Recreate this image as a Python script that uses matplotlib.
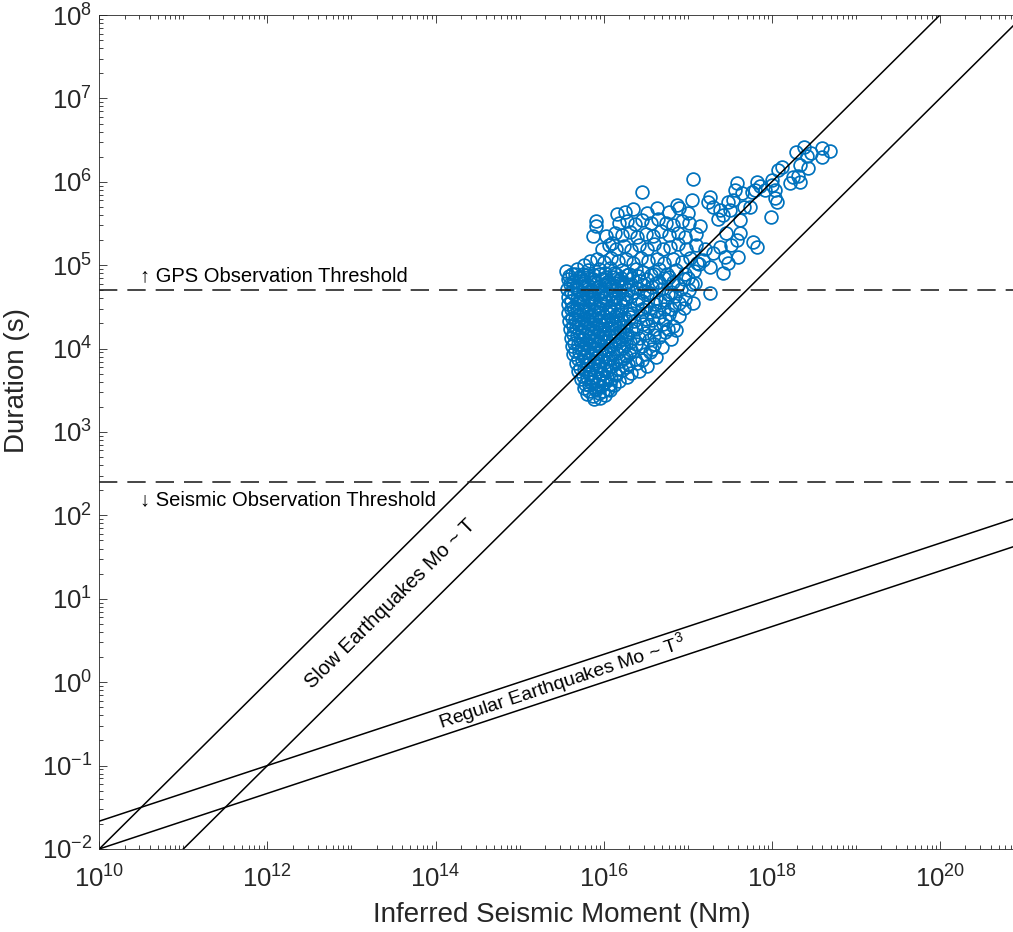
import numpy as np
import matplotlib
matplotlib.use("Agg")
import matplotlib.pyplot as plt
from matplotlib.ticker import LogLocator, NullFormatter, LogFormatterSciNotation

plt.rcParams['font.family'] = ['Liberation Sans', 'DejaVu Sans']
plt.rcParams['mathtext.fontset'] = 'custom'
plt.rcParams['mathtext.rm'] = 'Liberation Sans'
plt.rcParams['mathtext.it'] = 'Liberation Sans:italic'
plt.rcParams['mathtext.default'] = 'regular'

# events as (log10 moment [Nm], log10 duration [s])
dense_events = [
    (15.55, 4.93), (15.62, 4.89), (15.68, 4.96), (15.75, 4.90), (15.81, 4.94), (15.88, 4.88), (15.94, 4.95),
    (16.01, 4.91), (16.08, 4.97), (16.15, 4.89), (16.22, 4.94), (16.30, 4.90), (16.38, 4.96), (16.47, 4.92),
    (16.56, 4.88), (16.66, 4.95), (16.75, 4.90), (16.86, 4.94), (16.97, 4.89), (17.08, 4.93),
    (15.57, 4.83), (15.64, 4.80), (15.71, 4.86), (15.77, 4.81), (15.84, 4.85), (15.91, 4.79), (15.98, 4.84),
    (16.04, 4.80), (16.11, 4.86), (16.18, 4.82), (16.26, 4.78), (16.34, 4.85), (16.43, 4.81), (16.52, 4.84),
    (16.62, 4.79), (16.72, 4.85), (16.83, 4.80), (16.95, 4.83), (17.05, 4.78),
    (15.56, 4.72), (15.63, 4.76), (15.70, 4.71), (15.78, 4.75), (15.85, 4.70), (15.92, 4.74), (15.99, 4.69),
    (16.06, 4.75), (16.13, 4.71), (16.21, 4.74), (16.29, 4.70), (16.38, 4.73), (16.48, 4.69), (16.58, 4.74),
    (16.69, 4.71), (16.80, 4.68), (16.92, 4.72), (17.02, 4.70),
    (15.58, 4.62), (15.65, 4.66), (15.72, 4.61), (15.79, 4.65), (15.86, 4.60), (15.93, 4.64), (16.00, 4.61),
    (16.07, 4.66), (16.15, 4.62), (16.23, 4.58), (16.32, 4.63), (16.41, 4.60), (16.51, 4.65), (16.62, 4.61),
    (16.73, 4.58), (16.85, 4.63), (16.97, 4.60),
    (15.57, 4.53), (15.64, 4.50), (15.71, 4.55), (15.78, 4.51), (15.85, 4.56), (15.92, 4.50), (15.99, 4.54),
    (16.06, 4.49), (16.14, 4.55), (16.22, 4.51), (16.31, 4.47), (16.40, 4.53), (16.50, 4.50), (16.61, 4.54),
    (16.72, 4.48), (16.84, 4.52), (16.95, 4.49),
    (15.58, 4.43), (15.65, 4.46), (15.72, 4.41), (15.79, 4.45), (15.86, 4.40), (15.93, 4.44), (16.00, 4.39),
    (16.08, 4.45), (16.16, 4.41), (16.25, 4.37), (16.34, 4.43), (16.44, 4.40), (16.55, 4.44), (16.66, 4.38),
    (16.78, 4.42), (16.90, 4.39),
    (15.59, 4.33), (15.66, 4.36), (15.73, 4.31), (15.80, 4.35), (15.87, 4.30), (15.94, 4.34), (16.01, 4.29),
    (16.09, 4.35), (16.17, 4.31), (16.26, 4.27), (16.36, 4.33), (16.47, 4.29), (16.58, 4.34), (16.70, 4.30),
    (16.83, 4.27),
    (15.60, 4.23), (15.67, 4.26), (15.74, 4.21), (15.81, 4.25), (15.88, 4.20), (15.95, 4.24), (16.02, 4.19),
    (16.10, 4.25), (16.19, 4.21), (16.28, 4.17), (16.38, 4.23), (16.49, 4.19), (16.61, 4.24), (16.73, 4.20),
    (16.86, 4.22),
    (15.61, 4.13), (15.68, 4.16), (15.75, 4.11), (15.82, 4.15), (15.89, 4.10), (15.96, 4.14), (16.04, 4.09),
    (16.12, 4.15), (16.21, 4.11), (16.31, 4.08), (16.42, 4.13), (16.54, 4.10), (16.66, 4.14), (16.80, 4.11),
    (15.62, 4.03), (15.69, 4.06), (15.76, 4.01), (15.83, 4.05), (15.90, 4.00), (15.97, 4.04), (16.05, 3.99),
    (16.14, 4.05), (16.23, 4.01), (16.33, 3.98), (16.45, 4.03), (16.57, 3.99), (16.69, 4.02),
    (15.64, 3.93), (15.71, 3.96), (15.78, 3.91), (15.85, 3.95), (15.92, 3.90), (15.99, 3.94), (16.07, 3.89),
    (16.16, 3.95), (16.26, 3.91), (16.37, 3.88), (16.49, 3.93), (16.62, 3.90),
    (15.67, 3.83), (15.74, 3.86), (15.81, 3.81), (15.88, 3.85), (15.95, 3.80), (16.02, 3.84), (16.10, 3.79),
    (16.19, 3.85), (16.29, 3.81), (16.40, 3.83), (16.52, 3.79),
    (15.70, 3.73), (15.77, 3.76), (15.84, 3.71), (15.91, 3.75), (15.98, 3.70), (16.05, 3.74), (16.13, 3.69),
    (16.22, 3.74), (16.32, 3.71), (16.42, 3.73),
    (15.73, 3.63), (15.80, 3.66), (15.87, 3.61), (15.94, 3.65), (16.01, 3.60), (16.09, 3.64), (16.18, 3.61),
    (15.76, 3.53), (15.83, 3.56), (15.90, 3.51), (15.97, 3.55), (16.05, 3.52), (16.12, 3.56),
    (15.80, 3.46), (15.87, 3.43), (15.94, 3.47), (16.01, 3.44),
    (15.89, 3.39), (15.96, 3.41),
]

# second pass through the dense core, between the rows above
core_events = [
    (15.59, 4.87), (15.66, 4.90), (15.73, 4.85), (15.80, 4.88), (15.87, 4.84), (15.95, 4.89), (16.03, 4.86),
    (16.12, 4.91), (16.20, 4.85), (16.28, 4.88), (16.41, 4.87), (16.60, 4.90), (16.78, 4.86), (17.00, 4.85),
    (15.60, 4.77), (15.67, 4.74), (15.74, 4.79), (15.81, 4.76), (15.88, 4.80), (15.96, 4.75), (16.02, 4.78),
    (16.09, 4.74), (16.16, 4.79), (16.24, 4.75), (16.33, 4.78), (16.47, 4.76), (16.66, 4.80), (16.88, 4.76),
    (15.61, 4.68), (15.68, 4.71), (15.75, 4.66), (15.82, 4.69), (15.89, 4.65), (15.97, 4.69), (16.03, 4.66),
    (16.10, 4.70), (16.18, 4.67), (16.27, 4.65), (16.36, 4.68), (16.55, 4.67), (16.77, 4.66),
    (15.61, 4.57), (15.68, 4.60), (15.75, 4.56), (15.82, 4.59), (15.89, 4.55), (15.96, 4.58), (16.03, 4.56),
    (16.11, 4.60), (16.19, 4.56), (16.27, 4.59), (16.45, 4.57), (16.67, 4.56), (16.90, 4.55),
    (15.61, 4.47), (15.68, 4.49), (15.75, 4.45), (15.82, 4.48), (15.89, 4.46), (15.96, 4.49), (16.04, 4.44),
    (16.12, 4.48), (16.20, 4.46), (16.29, 4.42), (16.45, 4.47), (16.62, 4.45), (16.80, 4.47),
    (15.62, 4.37), (15.69, 4.40), (15.76, 4.36), (15.83, 4.39), (15.90, 4.35), (15.97, 4.38), (16.05, 4.34),
    (16.13, 4.39), (16.21, 4.36), (16.31, 4.38), (16.50, 4.36), (16.73, 4.35),
    (15.63, 4.27), (15.70, 4.30), (15.77, 4.26), (15.84, 4.29), (15.91, 4.25), (15.98, 4.28), (16.06, 4.24),
    (16.14, 4.29), (16.23, 4.26), (16.33, 4.22), (16.53, 4.27), (16.77, 4.24),
    (15.64, 4.17), (15.71, 4.20), (15.78, 4.16), (15.85, 4.19), (15.92, 4.15), (15.99, 4.18), (16.07, 4.14),
    (16.16, 4.19), (16.25, 4.16), (16.35, 4.13), (16.60, 4.16),
    (15.65, 4.07), (15.72, 4.10), (15.79, 4.06), (15.86, 4.09), (15.93, 4.05), (16.00, 4.08), (16.09, 4.04),
    (16.18, 4.09), (16.27, 4.05), (16.38, 4.06), (16.60, 4.05),
    (15.66, 3.97), (15.73, 4.00), (15.80, 3.96), (15.87, 3.99), (15.94, 3.95), (16.02, 3.98), (16.11, 3.95),
    (16.20, 3.99), (16.30, 3.95), (16.55, 3.96),
    (15.69, 3.87), (15.76, 3.90), (15.83, 3.86), (15.90, 3.89), (15.97, 3.85), (16.05, 3.88), (16.14, 3.85),
    (16.24, 3.89), (16.45, 3.86),
    (15.72, 3.77), (15.79, 3.80), (15.86, 3.76), (15.93, 3.79), (16.00, 3.75), (16.08, 3.78), (16.17, 3.76),
    (16.27, 3.78),
    (15.75, 3.67), (15.82, 3.70), (15.89, 3.66), (15.96, 3.69), (16.04, 3.66), (16.15, 3.68), (16.28, 3.66),
    (15.78, 3.58), (15.85, 3.60), (15.92, 3.57), (15.99, 3.59), (16.08, 3.58),
    (15.83, 3.49), (15.91, 3.50), (15.99, 3.49), (16.07, 3.50),
]

upper_events = [
    (15.84, 5.05), (15.92, 5.08), (16.00, 5.04), (16.09, 5.09), (16.17, 5.05), (16.26, 5.08), (16.35, 5.03),
    (16.44, 5.09), (16.53, 5.05), (16.63, 5.08), (16.72, 5.03), (16.82, 5.07), (16.93, 5.04), (17.03, 5.09),
    (17.13, 5.02),
    (15.98, 5.20), (16.06, 5.24), (16.15, 5.19), (16.24, 5.23), (16.33, 5.18), (16.42, 5.24), (16.51, 5.20),
    (16.60, 5.25), (16.70, 5.19), (16.79, 5.22), (16.88, 5.26), (16.98, 5.20), (17.10, 5.24), (17.20, 5.19),
    (16.03, 5.35), (16.13, 5.39), (16.22, 5.36), (16.31, 5.40), (16.40, 5.34), (16.50, 5.38), (16.59, 5.35),
    (16.68, 5.41), (16.78, 5.36), (16.88, 5.39), (16.97, 5.34), (17.10, 5.37),
    (16.18, 5.50), (16.28, 5.53), (16.37, 5.49), (16.46, 5.54), (16.56, 5.50), (16.65, 5.55), (16.74, 5.51),
    (16.83, 5.48), (16.93, 5.53), (17.02, 5.50), (17.15, 5.47),
    (16.25, 5.64), (16.35, 5.67), (16.52, 5.63), (16.64, 5.68), (16.78, 5.64), (16.90, 5.69), (17.00, 5.62),
    (16.45, 5.88), (15.91, 5.53), (15.91, 5.47), (15.87, 5.35), (16.10, 5.27), (16.16, 5.61), (16.87, 5.72),
    (17.06, 6.03), (15.77, 5.00), (17.26, 4.67), (17.42, 4.91), (17.11, 5.03), (17.09, 4.79), (17.06, 4.55),
]

tail_events = [
    (18.38, 6.42), (18.69, 6.37), (18.60, 6.41), (18.29, 6.36), (18.46, 6.35), (18.60, 6.30), (18.42, 6.31),
    (18.34, 6.20), (18.43, 6.17), (18.12, 6.18), (18.07, 6.14), (18.25, 6.06), (18.31, 6.07), (18.22, 5.99),
    (18.34, 6.00), (18.00, 6.02), (18.00, 5.96), (18.04, 5.90), (18.04, 5.81), (18.06, 5.76), (17.82, 6.00),
    (17.92, 5.90), (17.80, 5.90), (17.86, 5.95), (17.76, 5.88), (17.58, 5.98), (17.56, 5.90), (17.54, 5.78),
    (17.64, 5.86), (17.67, 5.70), (17.74, 5.70), (17.99, 5.58), (17.26, 5.82), (17.24, 5.76), (17.30, 5.70),
    (17.38, 5.66), (17.48, 5.76), (17.50, 5.66), (17.62, 5.54), (17.42, 5.60), (17.36, 5.55), (17.05, 5.78),
    (17.62, 5.39), (17.58, 5.30), (17.46, 5.39), (17.52, 5.24), (17.60, 5.10), (17.78, 5.28), (17.82, 5.22),
    (17.44, 5.10), (17.48, 5.03), (17.30, 5.15), (17.38, 5.22), (17.18, 5.06), (17.26, 4.98),
]

gps_threshold = 5e4       # s
seismic_threshold = 250   # s

moment_range = np.array([1e10, 1e21])

fig = plt.figure(figsize=(10.13, 9.32), dpi=100)
ax = fig.add_axes([0.098, 0.0891, 0.9129, 0.8948])

events = np.array(dense_events + core_events + upper_events + tail_events)
ax.plot(10 ** events[:, 0], 10 ** events[:, 1], 'o', mfc='none', mec='#0072BD',
        ms=9.2, mew=1.25, linestyle='none')

# scaling lines
ax.plot(moment_range, 1e-12 * moment_range, color='black', lw=1.1)
ax.plot(moment_range, 1e-13 * moment_range, color='black', lw=1.1)
ax.plot(moment_range, 1e-5 * moment_range ** (1 / 3), color='black', lw=1.1)
ax.plot(moment_range, 10 ** (-16 / 3) * moment_range ** (1 / 3), color='black', lw=1.1)

ax.axhline(gps_threshold, color='#262626', lw=1.2, dashes=(11, 6))
ax.axhline(seismic_threshold, color='#262626', lw=1.2, dashes=(11, 6))

ax.set_xscale('log')
ax.set_yscale('log')
ax.set_xlim(moment_range)
ax.set_ylim(1e-2, 1e8)

ax.set_xticks([1e10, 1e12, 1e14, 1e16, 1e18, 1e20])
ax.xaxis.set_major_formatter(LogFormatterSciNotation())
ax.xaxis.set_minor_locator(LogLocator(base=10, subs=np.arange(1, 10), numticks=200))
ax.xaxis.set_minor_formatter(NullFormatter())
ax.set_yticks([10.0 ** k for k in range(-2, 9)])
ax.yaxis.set_major_formatter(LogFormatterSciNotation())
ax.yaxis.set_minor_locator(LogLocator(base=10, subs=np.arange(2, 10), numticks=200))
ax.yaxis.set_minor_formatter(NullFormatter())

ax.tick_params(which='both', direction='in', top=True, right=True, colors='#262626',
               labelsize=18.5, width=0.6)
ax.tick_params(which='major', length=6)
ax.tick_params(which='minor', length=3)
ax.tick_params(axis='x', which='major', pad=12)
ax.tick_params(axis='y', which='major', pad=5)
for s in ax.spines.values():
    s.set_color('#262626')
    s.set_linewidth(0.6)

ax.set_xlabel('Inferred Seismic Moment (Nm)', fontsize=20, color='#262626')
ax.set_ylabel('Duration (s)', fontsize=20, color='#262626')
ax.xaxis.label.set_verticalalignment('center')
ax.yaxis.label.set_verticalalignment('center')
ax.yaxis.label.set_horizontalalignment('center')
ax.xaxis.set_label_coords(0.5, -0.079)
ax.yaxis.set_label_coords(-0.089, 0.562)

ax.text(10 ** 10.48, 10 ** 4.88, '↑ GPS Observation Threshold', fontsize=14.5,
        ha='left', va='center', color='black')
ax.text(10 ** 10.48, 10 ** 2.185, '↓ Seismic Observation Threshold', fontsize=14.5,
        ha='left', va='center', color='black')
ax.text(10 ** 13.46, 10 ** 0.94, 'Slow Earthquakes Mo ~ T', fontsize=14.5,
        ha='center', va='center', rotation=44.8, rotation_mode='anchor')
ax.text(10 ** 15.5, 10 ** 0.0, 'Regular Earthquakes Mo ~ T$^{3}$', fontsize=14,
        ha='center', va='center', rotation=18.3, rotation_mode='anchor')

fig.savefig('out.png', dpi=100)
